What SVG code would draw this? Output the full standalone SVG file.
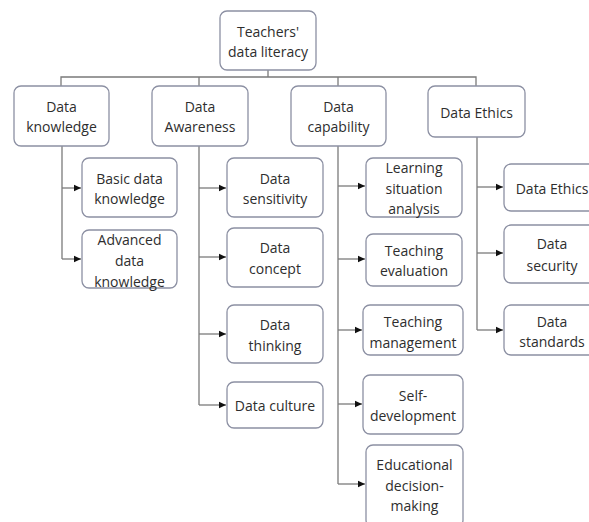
<svg xmlns="http://www.w3.org/2000/svg" width="589" height="522" viewBox="0 0 589 522">
<style>
.box{fill:#ffffff;stroke:#8c90a3;stroke-width:1.3}
.t{font-family:"Open Sans","Noto Sans","Liberation Sans",sans-serif;font-size:14px;fill:#2e2e2e;text-anchor:middle}
.c{fill:none;stroke:#7a7a7a;stroke-width:1.3}
</style>
<defs>
<marker id="ah" markerWidth="8" markerHeight="8" refX="7" refY="4" orient="auto" markerUnits="userSpaceOnUse">
<path d="M0,0.8 L7,4 L0,7.2 Z" fill="#111"/>
</marker>
</defs>
<rect width="589" height="522" fill="#ffffff"/>
<g id="connectors">
<path class="c" d="M268,70 V77 M61,86 V77 H476 V86 M199,77 V86 M338,77 V86"/>
<path class="c" d="M62,146 V259"/>
<path class="c" d="M62,188 H81" marker-end="url(#ah)"/>
<path class="c" d="M62,259 H81" marker-end="url(#ah)"/>
<path class="c" d="M199,146 V405"/>
<path class="c" d="M199,188 H226" marker-end="url(#ah)"/>
<path class="c" d="M199,257 H226" marker-end="url(#ah)"/>
<path class="c" d="M199,334 H226" marker-end="url(#ah)"/>
<path class="c" d="M199,405 H226" marker-end="url(#ah)"/>
<path class="c" d="M338,146 V484"/>
<path class="c" d="M338,186 H365" marker-end="url(#ah)"/>
<path class="c" d="M338,259 H365" marker-end="url(#ah)"/>
<path class="c" d="M338,330 H362" marker-end="url(#ah)"/>
<path class="c" d="M338,404 H362" marker-end="url(#ah)"/>
<path class="c" d="M338,484 H365" marker-end="url(#ah)"/>
<path class="c" d="M477,137 V330"/>
<path class="c" d="M477,187 H503" marker-end="url(#ah)"/>
<path class="c" d="M477,253 H503" marker-end="url(#ah)"/>
<path class="c" d="M477,330 H503" marker-end="url(#ah)"/>
</g>
<g id="root"><rect class="box" x="220" y="11" width="96" height="59" rx="7"/><text class="t" x="268" y="37">Teachers'</text><text class="t" x="268" y="57">data literacy</text></g>
<g id="data-knowledge"><rect class="box" x="14" y="86" width="95" height="60" rx="7"/><text class="t" x="61.5" y="112">Data</text><text class="t" x="61.5" y="132">knowledge</text></g>
<g id="data-awareness"><rect class="box" x="152" y="86" width="96" height="60" rx="7"/><text class="t" x="200" y="112">Data</text><text class="t" x="200" y="132">Awareness</text></g>
<g id="data-capability"><rect class="box" x="291" y="86" width="95" height="60" rx="7"/><text class="t" x="338.5" y="112">Data</text><text class="t" x="338.5" y="132">capability</text></g>
<g id="data-ethics"><rect class="box" x="428" y="86" width="97" height="51" rx="7"/><text class="t" x="476.5" y="118">Data Ethics</text></g>
<g id="basic-data-knowledge"><rect class="box" x="82" y="158" width="95" height="59" rx="7"/><text class="t" x="129.5" y="184">Basic data</text><text class="t" x="129.5" y="204">knowledge</text></g>
<g id="advanced-data-knowledge"><rect class="box" x="82" y="230" width="95" height="58" rx="7"/><text class="t" x="129.5" y="245">Advanced</text><text class="t" x="129.5" y="266">data</text><text class="t" x="129.5" y="287">knowledge</text></g>
<g id="data-sensitivity"><rect class="box" x="227" y="158" width="96" height="59" rx="7"/><text class="t" x="275" y="184">Data</text><text class="t" x="275" y="204">sensitivity</text></g>
<g id="data-concept"><rect class="box" x="227" y="228" width="96" height="59" rx="7"/><text class="t" x="275" y="253">Data</text><text class="t" x="275" y="274">concept</text></g>
<g id="data-thinking"><rect class="box" x="227" y="305" width="96" height="58" rx="7"/><text class="t" x="275" y="330">Data</text><text class="t" x="275" y="351">thinking</text></g>
<g id="data-culture"><rect class="box" x="227" y="382" width="96" height="46" rx="7"/><text class="t" x="275" y="411">Data culture</text></g>
<g id="learning-situation-analysis"><rect class="box" x="366" y="158" width="96" height="59" rx="7"/><text class="t" x="414" y="173">Learning</text><text class="t" x="414" y="194">situation</text><text class="t" x="414" y="214">analysis</text></g>
<g id="teaching-evaluation"><rect class="box" x="366" y="234" width="96" height="52" rx="7"/><text class="t" x="414" y="256">Teaching</text><text class="t" x="414" y="276">evaluation</text></g>
<g id="teaching-management"><rect class="box" x="363" y="305" width="100" height="50" rx="7"/><text class="t" x="413" y="327">Teaching</text><text class="t" x="413" y="348">management</text></g>
<g id="self-development"><rect class="box" x="363" y="375" width="100" height="59" rx="7"/><text class="t" x="413" y="401">Self-</text><text class="t" x="413" y="421">development</text></g>
<g id="educational-decision-making"><rect class="box" x="366" y="445" width="97" height="82" rx="7"/><text class="t" x="414.5" y="470">Educational</text><text class="t" x="414.5" y="491">decision-</text><text class="t" x="414.5" y="511">making</text></g>
<g id="data-ethics-child"><rect class="box" x="504" y="164" width="96" height="47" rx="7"/><text class="t" x="552" y="194">Data Ethics</text></g>
<g id="data-security"><rect class="box" x="504" y="225" width="96" height="58" rx="7"/><text class="t" x="552" y="249">Data</text><text class="t" x="552" y="271">security</text></g>
<g id="data-standards"><rect class="box" x="504" y="305" width="96" height="50" rx="7"/><text class="t" x="552" y="327">Data</text><text class="t" x="552" y="347">standards</text></g>
</svg>
